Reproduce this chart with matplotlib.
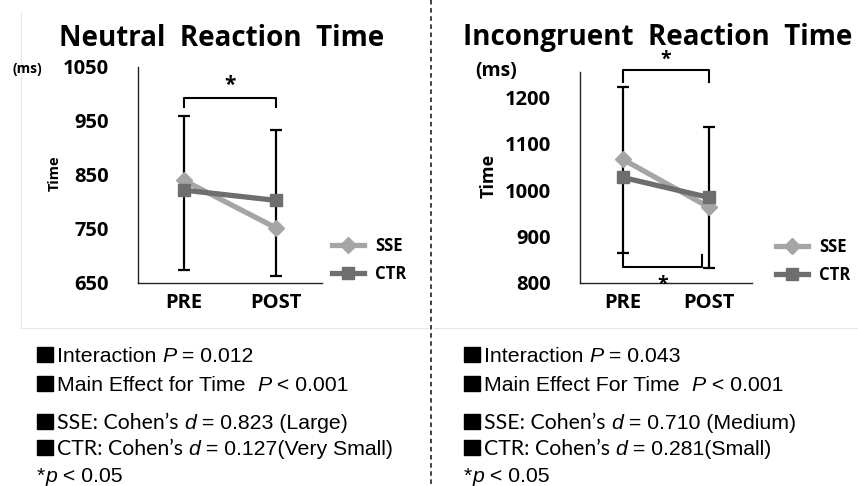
import matplotlib
matplotlib.use("Agg")
import matplotlib.pyplot as plt
from matplotlib.lines import Line2D
from matplotlib.patches import Rectangle

W, H = 858, 486

categories = ["PRE", "POST"]

# neutral reaction time (ms)
neutral_sse = [840, 752]
neutral_ctr = [822, 803]
neutral_err_hi = [960, 934]
neutral_err_lo = [674, 663]

# incongruent reaction time (ms)
incong_sse = [1066, 963]
incong_ctr = [1027, 984]
incong_err_hi = [1222, 1135]
incong_err_lo = [865, 832]

SSE_COL = "#a5a5a5"
CTR_COL = "#6e6e6e"
BOLD = "Open Sans"


def px_rect(x0, y0, x1, y1):
    # pixel box (top-left origin) -> figure fraction rect
    return [x0 / W, 1 - y1 / H, (x1 - x0) / W, (y1 - y0) / H]


def fx(x):
    return x / W


def fy(y):
    return 1 - y / H


fig = plt.figure(figsize=(W / 100, H / 100), dpi=100)
fig.patch.set_facecolor("white")

# faint panel frames + dashed divider
fig.add_artist(Line2D([fx(21), fx(21)], [fy(12), fy(328)], color="#e6e6e6", lw=0.8))
fig.add_artist(Line2D([fx(21), fx(428)], [fy(328), fy(328)], color="#e6e6e6", lw=0.8))
fig.add_artist(Line2D([fx(434), fx(858)], [fy(328), fy(328)], color="#e6e6e6", lw=0.8))
fig.add_artist(Line2D([fx(431), fx(431)], [fy(0), fy(486)], color="#333333", lw=1.3,
                      linestyle=(0, (2.5, 2))))


def panel(rect, sse, ctr, lo, hi, ylim, yticks):
    ax = fig.add_axes(rect)
    x = list(range(len(categories)))
    mid = [(a + b) / 2 for a, b in zip(lo, hi)]
    half = [(b - a) / 2 for a, b in zip(lo, hi)]
    ax.errorbar(x, mid, yerr=half, fmt="none", ecolor="black", elinewidth=1.6,
                capsize=4, capthick=1.6, zorder=2)
    ax.plot(x, sse, color=SSE_COL, lw=3.8, marker="D", ms=8.5, zorder=3, label="SSE")
    ax.plot(x, ctr, color=CTR_COL, lw=3.8, marker="s", ms=8.5, zorder=4, label="CTR")
    ax.set_xlim(-0.5, 1.5)
    ax.set_ylim(*ylim)
    ax.set_yticks(yticks)
    ax.set_xticks(x)
    ax.set_xticklabels(categories)
    for s in ["top", "right"]:
        ax.spines[s].set_visible(False)
    for s in ["left", "bottom"]:
        ax.spines[s].set_color("#222222")
        ax.spines[s].set_linewidth(1.0)
    ax.tick_params(axis="y", length=0, pad=21)
    ax.tick_params(axis="x", length=0, pad=7)
    for lab in ax.get_yticklabels() + ax.get_xticklabels():
        lab.set_fontfamily(BOLD)
        lab.set_fontweight("bold")
        lab.set_fontsize(14.5)
    ax.set_facecolor("none")
    return ax


ax1 = panel(px_rect(138, 67, 322, 283), neutral_sse, neutral_ctr,
            neutral_err_lo, neutral_err_hi, (650, 1050), [650, 750, 850, 950, 1050])
ax2 = panel(px_rect(580, 72, 752, 283), incong_sse, incong_ctr,
            incong_err_lo, incong_err_hi, (800, 1254), [800, 900, 1000, 1100, 1200])

# significance brackets
ax1.plot([0, 0, 1, 1], [976, 992, 992, 976], color="black", lw=1.5, clip_on=False)
ax1.text(0.5, 996, "*", ha="center", va="bottom", fontsize=15, fontweight="bold",
         family=BOLD)
ax2.plot([0, 0, 1, 1], [1233, 1258, 1258, 1233], color="black", lw=1.5, clip_on=False)
ax2.text(0.5, 1258, "*", ha="center", va="bottom", fontsize=14, fontweight="bold",
         family=BOLD, clip_on=False)
ax2.plot([0, 0, 0.92, 0.92], [867, 835, 835, 860], color="black", lw=1.5, clip_on=False)
ax2.text(0.46, 775, "*", ha="center", va="bottom", fontsize=14, fontweight="bold",
         family=BOLD, clip_on=False)

# legends
for ax, (x0, y0) in [(ax1, (332, 247)), (ax2, (776, 248))]:
    bb = ax.get_position()
    lx = (x0 / W - bb.x0) / bb.width
    ly = (fy(y0 - 10) - bb.y0) / bb.height
    ax.legend(loc="upper left", bbox_to_anchor=(lx, ly), frameon=False,
              handlelength=1.9, handletextpad=0.7, labelspacing=0.62,
              borderaxespad=0, borderpad=0,
              prop={"family": BOLD, "weight": "bold", "size": 12})

# titles and axis labels
fig.text(fx(222), fy(38), "Neutral  Reaction  Time", ha="center", va="center",
         family=BOLD, weight="bold", fontsize=20)
fig.text(fx(658), fy(38), "Incongruent  Reaction  Time", ha="center", va="center",
         family=BOLD, weight="bold", fontsize=20)
fig.text(fx(27), fy(69), "(ms)", ha="center", va="center", family=BOLD,
         weight="bold", fontsize=10)
fig.text(fx(496), fy(71), "(ms)", ha="center", va="center", family=BOLD,
         weight="bold", fontsize=14)
fig.text(fx(55), fy(173), "Time", ha="center", va="center", rotation=90,
         family=BOLD, weight="bold", fontsize=10.5)
fig.text(fx(489), fy(176), "Time", ha="center", va="center", rotation=90,
         family=BOLD, weight="bold", fontsize=13)

# statistics text blocks, drawn piece by piece (y = baseline in pixels)
renderer = fig.canvas.get_renderer()
ARIAL = {"family": "Liberation Sans", "size": 15.3}
ITAL = {"family": "Liberation Sans", "size": 15.3, "style": "italic"}
CAL = {"family": "Lato", "size": 15.3}


def line(x, y, parts, square=True):
    if square:
        fig.add_artist(Rectangle((fx(x), fy(y)), 16 / W, 15 / H, color="black",
                                 transform=fig.transFigure))
        x += 20
    for s, kw in parts:
        t = fig.text(fx(x), fy(y), s, ha="left", va="baseline", **kw)
        x += t.get_window_extent(renderer).width


def block(x, p_int, word_for, d_sse, lab_sse, d_ctr, lab_ctr):
    line(x, 362, [("Interaction ", ARIAL), ("P", ITAL), (" = " + p_int, ARIAL)])
    line(x, 391, [("Main Effect " + word_for + " Time  ", ARIAL), ("P", ITAL),
                  (" < 0.001", ARIAL)])
    line(x, 429, [("SSE: Cohen\u2019s ", CAL), ("d", ITAL),
                  (" = " + d_sse + " " + lab_sse, ARIAL)])
    line(x, 455, [("CTR: Cohen\u2019s ", CAL), ("d", ITAL),
                  (" = " + d_ctr + lab_ctr, ARIAL)])
    line(x, 482, [("*", ARIAL), ("p", ITAL), (" < 0.05", ARIAL)], square=False)


block(37, "0.012", "for", "0.823", "(Large)", "0.127", "(Very Small)")
block(464, "0.043", "For", "0.710", "(Medium)", "0.281", "(Small)")

fig.savefig("out.png", dpi=100)
